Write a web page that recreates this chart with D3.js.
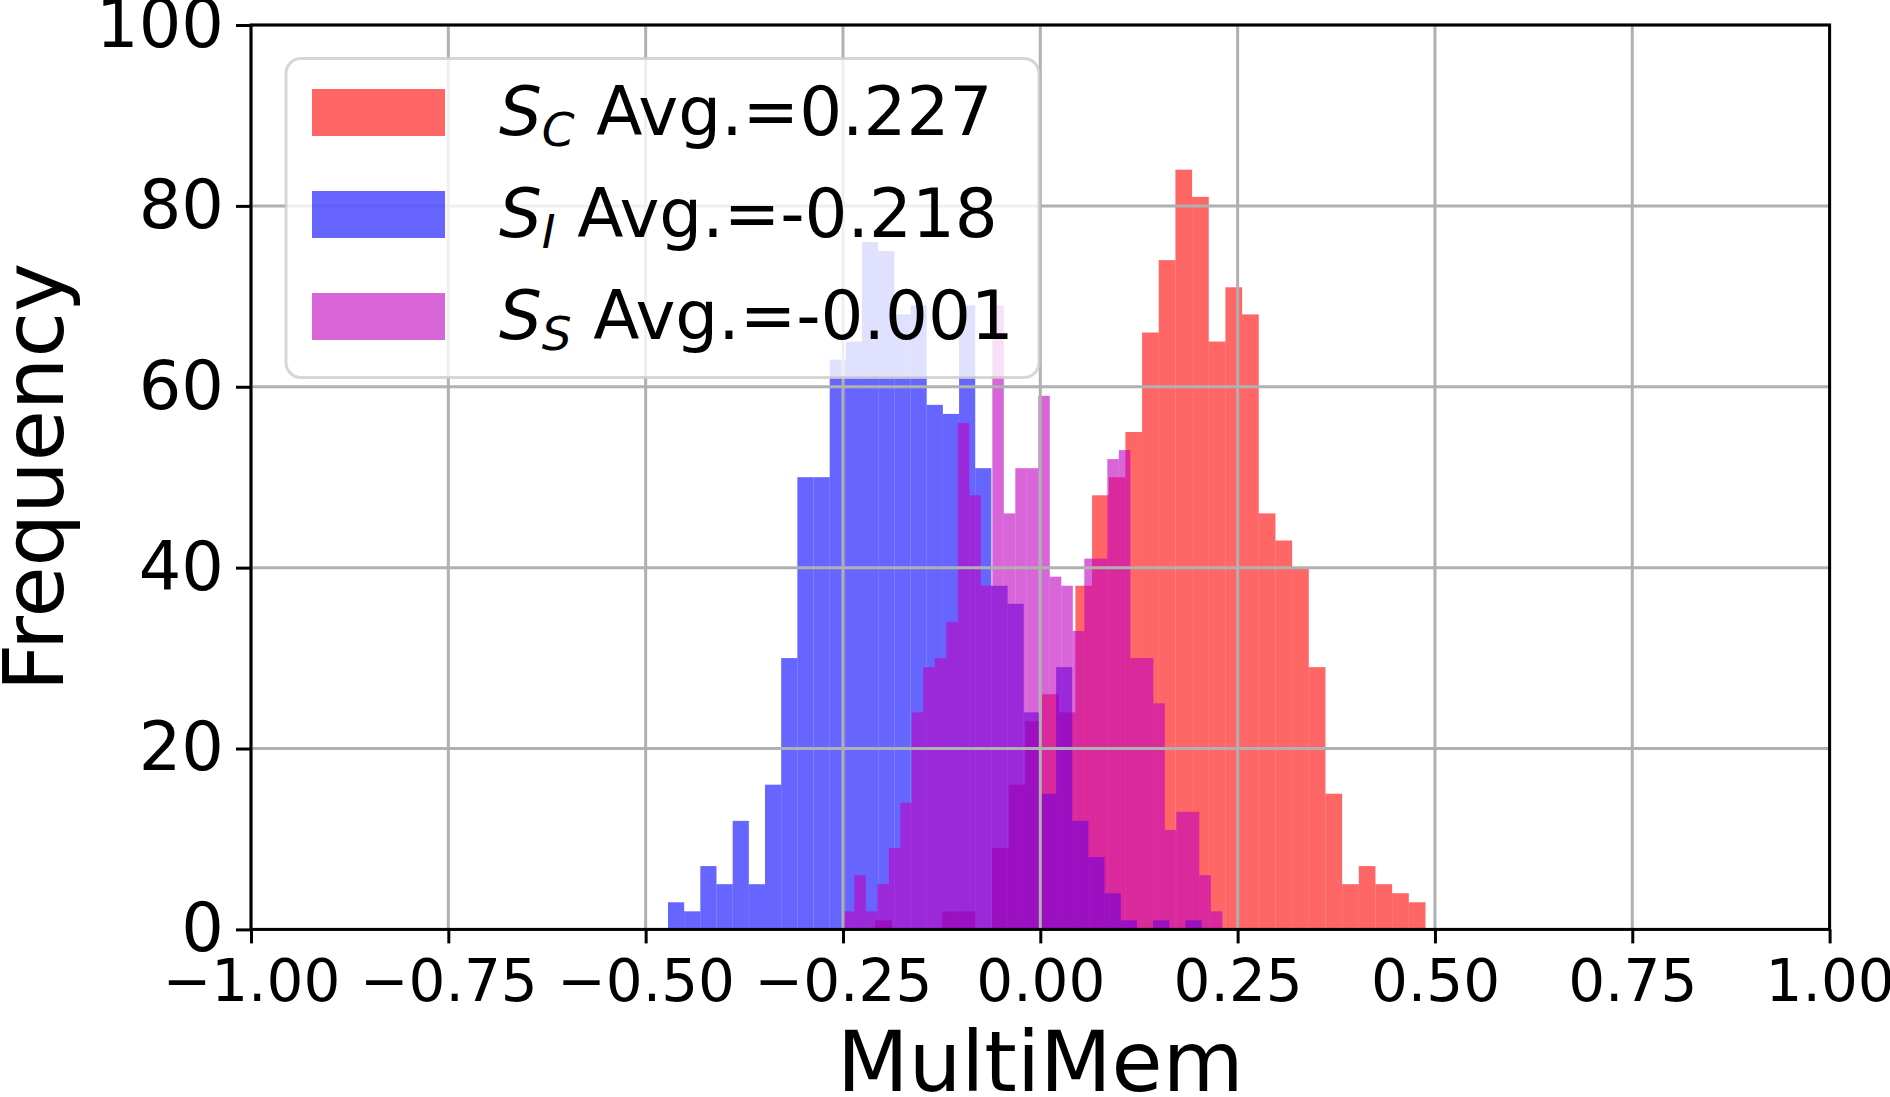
<!DOCTYPE html>
<html>
<head>
<meta charset="utf-8">
<script src="https://cdn.jsdelivr.net/npm/d3@7"></script>
<style>
body { margin: 0; background: #fff; }
svg { display: block; font-family: "DejaVu Sans", sans-serif; }
</style>
</head>
<body>
<svg width="1890" height="1097"></svg>
<script>
// histogram counts, 33 bins per series (1000 samples each)
let redCounts = [1,0,0,0,2,2,0,9,16,23,26,24,38,48,50,55,66,74,84,81,65,71,68,46,43,40,29,15,5,7,5,4,3];
let blueCounts = [3,2,7,5,12,5,16,30,50,50,63,65,76,75,68,69,58,57,69,51,38,36,24,15,29,12,8,4,1,0,1,0,1];
let magentaCounts = [2,6,2,5,9,14,24,29,30,34,56,48,38,69,46,51,51,59,39,38,33,41,41,52,53,30,30,25,11,13,13,6,2];

let redRange = [-0.209, 0.488];
let blueRange = [-0.4717, 0.2044];
let magentaRange = [-0.2502, 0.2306];

let seriesSubs = ["C", "I", "S"];
let seriesAvgs = ["0.227", "-0.218", "-0.001"];
let seriesColors = ["#ff0000", "#0000ff", "#bf00bf"];

let xTickValues = [-1, -0.75, -0.5, -0.25, 0, 0.25, 0.5, 0.75, 1];
let yTickValues = [0, 20, 40, 60, 80, 100];

let margin = {top: 25, left: 251},
    width = 1578.6,
    height = 904.4;

let svg = d3.select("svg");

let x = d3.scaleLinear().domain([-1, 1]).range([0, width]);
let y = d3.scaleLinear().domain([0, 100]).range([height, 0]);

let g = svg.append("g").attr("transform", `translate(${margin.left},${margin.top})`);

let series = [
    {counts: redCounts, range: redRange, color: seriesColors[0]},
    {counts: blueCounts, range: blueRange, color: seriesColors[1]},
    {counts: magentaCounts, range: magentaRange, color: seriesColors[2]}
];

// bars
series.forEach(s => {
    let n = s.counts.length;
    let w = (s.range[1] - s.range[0]) / n;
    let bins = s.counts.map((c, i) => ({x0: s.range[0] + i * w, x1: s.range[0] + (i + 1) * w, c: c}));
    g.append("g")
        .selectAll("rect")
        .data(bins.filter(b => b.c > 0))
        .enter()
        .append("rect")
        .attr("x", b => x(b.x0))
        .attr("width", b => x(b.x1) - x(b.x0))
        .attr("y", b => y(b.c))
        .attr("height", b => y(0) - y(b.c))
        .attr("fill", s.color)
        .attr("fill-opacity", 0.6);
});

// grid (above bars like matplotlib)
let grid = g.append("g").attr("stroke", "#b0b0b0").attr("stroke-width", 3);
grid.selectAll(".vx").data(xTickValues).enter().append("line")
    .attr("x1", d => x(d)).attr("x2", d => x(d))
    .attr("y1", 0).attr("y2", height);
grid.selectAll(".hy").data(yTickValues).enter().append("line")
    .attr("x1", 0).attr("x2", width)
    .attr("y1", d => y(d)).attr("y2", d => y(d));

// axes
let xAxis = g.append("g")
    .attr("transform", `translate(0,${height})`)
    .call(d3.axisBottom(x).tickValues(xTickValues).tickFormat(d3.format(".2f")).tickSize(14).tickPadding(16));
xAxis.selectAll("text").attr("font-size", 58).attr("fill", "#000");

let yAxis = g.append("g")
    .call(d3.axisLeft(y).tickValues(yTickValues).tickSize(15).tickPadding(12));
yAxis.selectAll("text").attr("font-size", 67).attr("fill", "#000");

[xAxis, yAxis].forEach(a => {
    a.select(".domain").remove();
    a.selectAll(".tick line").attr("stroke", "#000").attr("stroke-width", 3);
    a.attr("font-family", "DejaVu Sans");
});

// spines
g.append("rect")
    .attr("x", 0).attr("y", 0)
    .attr("width", width).attr("height", height)
    .attr("fill", "none")
    .attr("stroke", "#000")
    .attr("stroke-width", 3);

// axis labels
svg.append("text")
    .attr("x", margin.left + width / 2)
    .attr("y", 1091)
    .attr("text-anchor", "middle")
    .attr("font-size", 83)
    .text("MultiMem");

svg.append("text")
    .attr("transform", `translate(63,${margin.top + height / 2}) rotate(-90)`)
    .attr("text-anchor", "middle")
    .attr("font-size", 83)
    .text("Frequency");

// legend
let legend = svg.append("g");
legend.append("rect")
    .attr("x", 286).attr("y", 58.5)
    .attr("width", 753).attr("height", 319)
    .attr("rx", 15)
    .attr("fill", "#fff").attr("fill-opacity", 0.8)
    .attr("stroke", "#cccccc").attr("stroke-opacity", 0.8)
    .attr("stroke-width", 3);

seriesSubs.forEach((sub, i) => {
    let rowY = 89 + i * 102;
    legend.append("rect")
        .attr("x", 312).attr("y", rowY)
        .attr("width", 133).attr("height", 47)
        .attr("fill", seriesColors[i]).attr("fill-opacity", 0.6);
    let t = legend.append("text")
        .attr("x", 499).attr("y", rowY + 46)
        .attr("font-size", 67.5);
    t.append("tspan").attr("font-style", "italic").text("S");
    t.append("tspan").attr("font-style", "italic").attr("font-size", 47).attr("dy", 11).text(sub);
    t.append("tspan").attr("dy", -11).text(" Avg.=" + seriesAvgs[i]);
});
</script>
</body>
</html>
